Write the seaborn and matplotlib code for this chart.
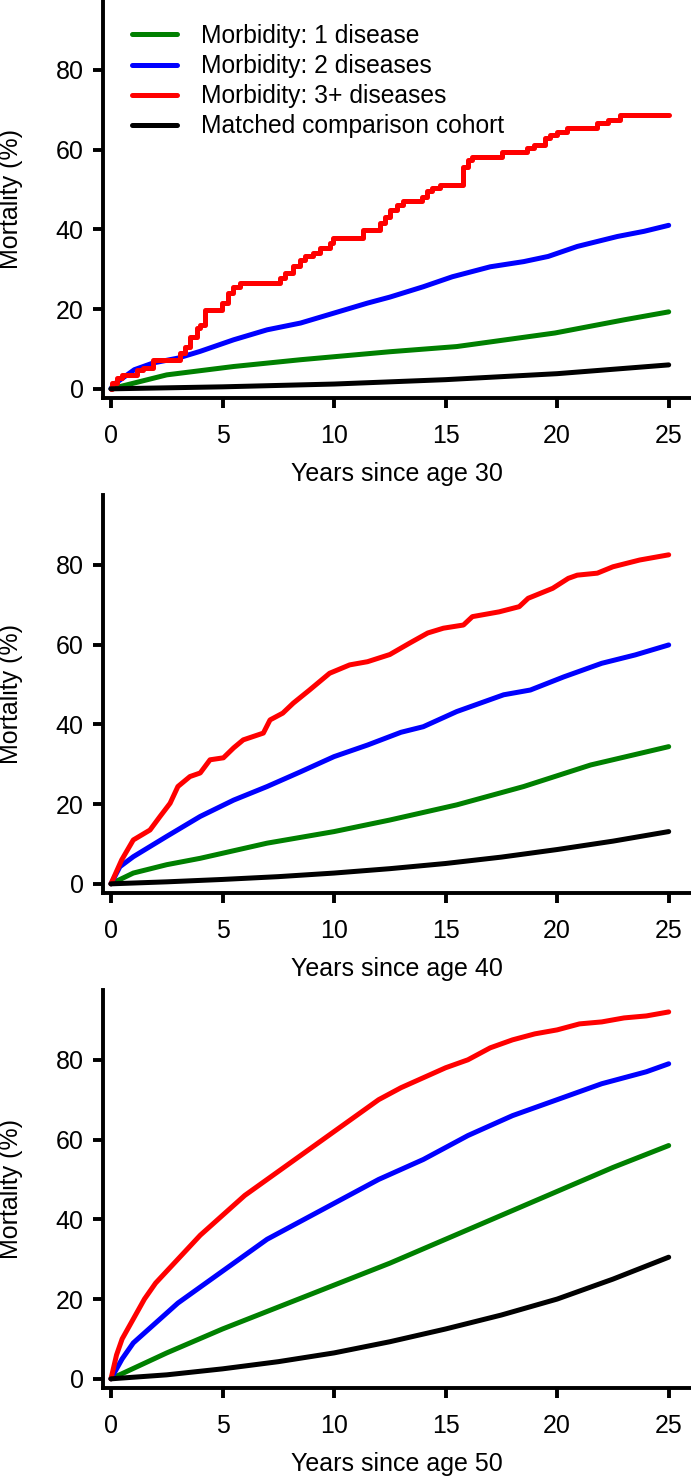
import numpy as np
import pandas as pd
import matplotlib
matplotlib.use("Agg")
import matplotlib.pyplot as plt
import seaborn as sns

# Legend labels
labels = ["Morbidity: 1 disease", "Morbidity: 2 diseases",
          "Morbidity: 3+ diseases", "Matched comparison cohort"]
colors = ["green", "blue", "red", "black"]
ages = [30, 40, 50]

# Panel 1 - since age 30
t30_one = [0, 2.5, 5.5, 8.5, 12.5, 15.5, 19.9, 23, 25]
v30_one = [0, 3.5, 5.6, 7.3, 9.3, 10.6, 14, 17.3, 19.3]
t30_two = [0, 0.1, 1.05, 1.9, 3, 4, 5.5, 7, 8.5, 10, 11.5, 12.5, 14, 15.3, 17, 18.5, 19.6, 20.9, 22.7, 23.9, 25]
v30_two = [0, 1, 4.8, 6.5, 7.7, 9.4, 12.3, 14.8, 16.5, 19, 21.5, 23, 25.6, 28.1, 30.6, 31.9, 33.2, 35.7, 38.2, 39.5, 41]
t30_three = [0, 0.03, 0.25, 0.48, 1.15, 1.45, 1.9, 3.09, 3.32, 3.54, 3.84, 3.99, 4.21, 4.96, 5.26, 5.48,
             5.78, 7.58, 7.8, 8.17, 8.47, 8.7, 9.07, 9.37, 9.82, 9.97, 11.31, 12.06, 12.29, 12.51, 12.81,
             13.11, 13.93, 14.15, 14.38, 14.75, 15.8, 16.02, 16.17, 17.52, 18.64, 18.94, 19.46, 19.69,
             19.98, 20.43, 21.77, 22.3, 22.82, 25.0]
v30_three = [0, 1.4, 2.7, 3.5, 4.8, 5.2, 7.3, 8.9, 10.6, 13.1, 15.2, 16.0, 19.8, 21.5, 24.0, 25.6,
             26.5, 27.7, 29.0, 30.7, 32.3, 33.2, 34.0, 35.3, 36.5, 37.8, 39.8, 41.5, 43.2, 44.8, 46.2,
             47.0, 48.2, 49.5, 50.3, 51.1, 55.7, 57.4, 58.2, 59.5, 60.3, 61.2, 62.8, 63.7,
             64.5, 65.3, 66.6, 67.4, 68.7, 68.7]
t30_cmp = [0, 5, 10, 15, 20, 25]
v30_cmp = [0, 0.5, 1.2, 2.3, 3.8, 6.0]

# Panel 2 - since age 40
t40_one = [0, 1, 2.5, 4, 7, 10, 12.5, 15.5, 18.5, 21.5, 25]
v40_one = [0, 2.7, 4.8, 6.4, 10.2, 13.1, 16, 19.8, 24.4, 29.8, 34.4]
t40_two = [0, 0.4, 1, 2.5, 4, 5.5, 7, 8.5, 10, 11.5, 13, 14, 15.5, 17.6, 18.8, 20.3, 22, 23.5, 25]
v40_two = [0, 4.3, 6.8, 11.9, 16.9, 21, 24.4, 28.1, 31.9, 34.8, 38, 39.4, 43.2, 47.4, 48.6, 51.9, 55.3, 57.4, 59.9]
t40_three = [0, 0.48, 1.0, 1.75, 2.2, 2.65, 3.0, 3.54, 4.0, 4.44, 5.04, 5.5, 5.93, 6.83, 7.13, 7.7, 8.17,
             8.9, 9.8, 10.7, 11.5, 12.5, 13.4, 14.2, 14.9, 15.8, 16.2, 17.4, 18.3, 18.7, 19.8, 20.5, 20.9,
             21.8, 22.5, 23.7, 25.0]
v40_three = [0, 6, 11, 13.5, 16.9, 20.2, 24.4, 26.9, 27.8, 31.1, 31.6, 34.1, 36.1, 37.8, 41.1, 42.8, 45.3,
             48.6, 52.8, 54.9, 55.7, 57.5, 60.4, 62.9, 64.1, 64.9, 67, 68.2, 69.5, 71.6, 74.1, 76.6, 77.4,
             77.9, 79.5, 81.2, 82.5]
t40_cmp = [0, 2.5, 5, 7.5, 10, 12.5, 15, 17.5, 20, 22.5, 25]
v40_cmp = [0, 0.5, 1.1, 1.8, 2.7, 3.8, 5.1, 6.7, 8.6, 10.7, 13.1]

# Panel 3 - since age 50
t50_one = [0, 2.5, 5, 7.5, 10, 12.5, 15, 17.5, 20, 22.5, 25]
v50_one = [0, 6.5, 12.5, 18, 23.5, 29, 35, 41, 47, 53, 58.5]
t50_two = [0, 0.5, 1, 2, 3, 4, 5, 6, 7, 8, 9, 10, 12, 14, 16, 18, 20, 22, 24, 25]
v50_two = [0, 5, 9, 14, 19, 23, 27, 31, 35, 38, 41, 44, 50, 55, 61, 66, 70, 74, 77, 79]
t50_three = [0, 0.25, 0.5, 1, 1.5, 2, 3, 4, 5, 6, 7, 8, 9, 10, 11, 12, 13, 14, 15, 16, 17, 18, 19,
             20, 21, 22, 23, 24, 25]
v50_three = [0, 6, 10, 15, 20, 24, 30, 36, 41, 46, 50, 54, 58, 62, 66, 70, 73, 75.5, 78, 80, 83, 85, 86.5,
             87.5, 89, 89.5, 90.5, 91, 92]
t50_cmp = [0, 2.5, 5, 7.5, 10, 12.5, 15, 17.5, 20, 22.5, 25]
v50_cmp = [0, 1, 2.5, 4.3, 6.5, 9.3, 12.5, 16, 20, 25, 30.5]

panels = [
    [(t30_one, v30_one), (t30_two, v30_two), (t30_three, v30_three), (t30_cmp, v30_cmp)],
    [(t40_one, v40_one), (t40_two, v40_two), (t40_three, v40_three), (t40_cmp, v40_cmp)],
    [(t50_one, v50_one), (t50_two, v50_two), (t50_three, v50_three), (t50_cmp, v50_cmp)],
]

sns.set_style("ticks")
plt.rcParams["font.family"] = ["Liberation Sans", "DejaVu Sans"]
plt.rcParams["font.size"] = 18
for key in ["text.color", "axes.labelcolor", "xtick.color", "ytick.color", "axes.edgecolor"]:
    plt.rcParams[key] = "black"

W, H = 691, 1482
fig = plt.figure(figsize=(W / 100, H / 100), dpi=100)

for i, series in enumerate(panels):
    top = 495 * i
    ax = fig.add_axes([102.5 / W, 1 - (top + 398) / H, 588.5 / W, 398 / H])
    for j, (t, v) in enumerate(series):
        df = pd.DataFrame({"t": t, "v": v})
        kw = {}
        # the 3+ curve at age 30 is a visible Kaplan-Meier staircase
        if i == 0 and j == 2:
            kw["drawstyle"] = "steps-post"
        sns.lineplot(data=df, x="t", y="v", color=colors[j], lw=3.6, ax=ax,
                     label=labels[j] if i == 0 else None, estimator=None, sort=False,
                     legend=(i == 0), **kw)
    ax.set_xlim(-0.38, 26.0)
    ax.set_ylim(-2.3, 97.5)
    ax.set_xticks([0, 5, 10, 15, 20, 25])
    ax.set_yticks([0, 20, 40, 60, 80])
    for s in ["top", "right"]:
        ax.spines[s].set_visible(False)
    for s in ["left", "bottom"]:
        ax.spines[s].set_linewidth(2.8)
    ax.tick_params(axis="both", length=7.5, width=2.8, labelsize=18, color="black")
    ax.tick_params(axis="y", pad=6)
    ax.tick_params(axis="x", pad=11)
    ax.set_xlabel("Years since age %d" % ages[i], fontsize=18, labelpad=10)
    ax.set_ylabel("Mortality (%)", fontsize=18)
    ax.yaxis.set_label_coords(-0.135, 0.5)
    if i == 0:
        ax.legend(loc="upper left", bbox_to_anchor=(29.5 / 588.5, 1 - 24 / 398),
                  frameon=False, fontsize=17.7, handlelength=1.85, handletextpad=0.95,
                  labelspacing=0.25, borderaxespad=0, borderpad=0)
    else:
        if ax.get_legend() is not None:
            ax.get_legend().remove()

fig.savefig("out.png", dpi=100)
